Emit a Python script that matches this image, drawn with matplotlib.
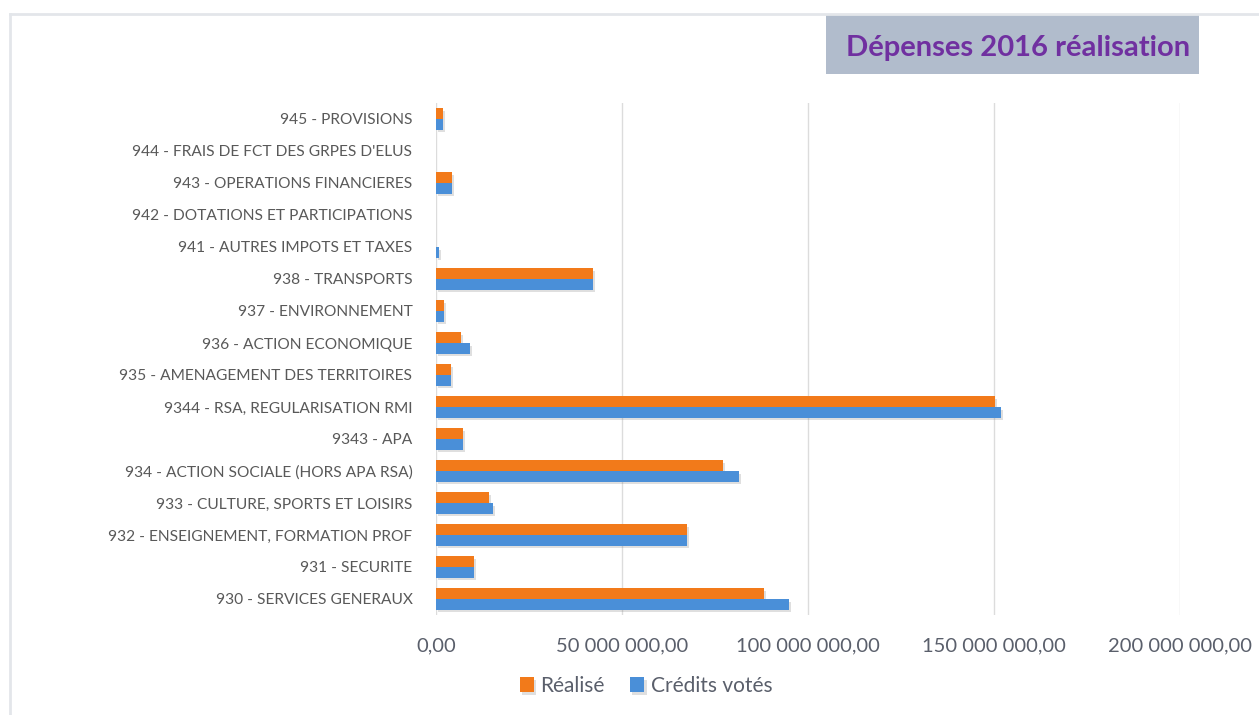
import numpy as np
import matplotlib.pyplot as plt
from matplotlib.patches import Rectangle
from matplotlib.lines import Line2D
import matplotlib.patheffects as pe
from matplotlib.ticker import FuncFormatter, MultipleLocator

plt.rcParams['font.family'] = ['Lato', 'DejaVu Sans']

# chapitres budgétaires, du bas vers le haut
categories = [
    "930 - SERVICES GENERAUX",
    "931 - SECURITE",
    "932 - ENSEIGNEMENT, FORMATION PROF",
    "933 - CULTURE, SPORTS ET LOISIRS",
    "934 - ACTION SOCIALE (HORS APA RSA)",
    "9343 - APA",
    "9344 - RSA, REGULARISATION RMI",
    "935 - AMENAGEMENT DES TERRITOIRES",
    "936 - ACTION ECONOMIQUE",
    "937 - ENVIRONNEMENT",
    "938 - TRANSPORTS",
    "941 - AUTRES IMPOTS ET TAXES",
    "942 - DOTATIONS ET PARTICIPATIONS",
    "943 - OPERATIONS FINANCIERES",
    "944 - FRAIS DE FCT DES GRPES D'ELUS",
    "945 - PROVISIONS",
]

# montants en millions d'euros
realise = [88.2, 10.1, 67.5, 14.2, 77.2, 7.3, 150.2, 3.9, 6.6, 2.2, 42.3, 0.0, 0.0, 4.2, 0.0, 1.8]
credits_votes = [94.8, 10.1, 67.5, 15.3, 81.4, 7.3, 151.8, 3.9, 9.1, 2.2, 42.3, 0.7, 0.0, 4.2, 0.0, 1.8]

realise = np.array(realise) * 1e6
credits_votes = np.array(credits_votes) * 1e6

W, H = 1259, 715
fig = plt.figure(figsize=(W / 100, H / 100), dpi=100)

# cadre gris clair
fig.add_artist(Line2D([10 / W, 1], [1 - 14 / H, 1 - 14 / H], color='#e3e6ea', lw=2))
fig.add_artist(Line2D([10 / W, 10 / W], [0, 1 - 14 / H], color='#e3e6ea', lw=2))

ax = fig.add_axes([436 / W, 1 - 615 / H, (1180 - 436) / W, (615 - 103) / H])

y = np.arange(len(categories))
h = 0.33
shadow = [pe.SimplePatchShadow(offset=(1.5, -2), alpha=0.25, shadow_rgbFace='#808080'), pe.Normal()]
b1 = ax.barh(y + h / 2, realise, height=h, color='#f27a1a', label='Réalisé', zorder=3)
b2 = ax.barh(y - h / 2, credits_votes, height=h, color='#4a8fd8', label='Crédits votés', zorder=3)
for bar in list(b1) + list(b2):
    if bar.get_width() > 0:
        bar.set_path_effects(shadow)

ax.set_xlim(0, 200e6)
ax.set_ylim(-0.5, len(categories) - 0.5)
ax.xaxis.set_major_locator(MultipleLocator(50e6))
ax.xaxis.set_major_formatter(FuncFormatter(
    lambda v, p: f"{v:,.2f}".replace(',', ' ').replace('.', ',')))
ax.grid(axis='x', color='#dcdcdc', lw=1, zorder=0)
ax.set_axisbelow(True)
for s in ax.spines.values():
    s.set_visible(False)

ax.set_yticks(y)
ax.set_yticklabels(categories)
ax.tick_params(axis='y', length=0, pad=17, labelsize=11.2, labelcolor='#595959')
ax.tick_params(axis='x', length=0, pad=16, labelsize=14.5, labelcolor='#5a5f6b')

fig.legend(handles=[b1, b2], loc='center', bbox_to_anchor=(646 / W, 1 - 686 / H),
           ncol=2, frameon=False, fontsize=15, labelcolor='#5a5f6b',
           handlelength=0.7, handleheight=0.7, handletextpad=0.3, columnspacing=1.2)

# bandeau du titre
fig.patches.append(Rectangle((826 / W, 1 - 74 / H), (1199 - 826) / W, 59 / H,
                             transform=fig.transFigure, facecolor='#b1bccc',
                             edgecolor='none', zorder=1))
fig.text(1018 / W, 1 - 48 / H, "Dépenses 2016 réalisation", ha='center', va='center',
         fontsize=21, fontweight='bold', color='#7030a0')

fig.savefig('out.png', dpi=100)
